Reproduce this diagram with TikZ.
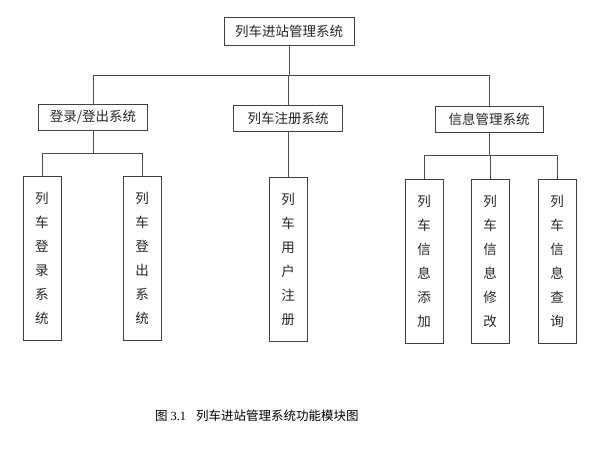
\documentclass[tikz,border=0pt]{standalone}
\usepackage{fontspec}
\newfontfamily\cjk{Noto Sans CJK SC}
\newfontfamily\numfont{Liberation Serif}
\begin{document}
\begin{tikzpicture}[x=1pt,y=-1pt,
  box/.style={draw=black!75,line width=0.9pt,fill=white,inner sep=0pt,
    font={\cjk\fontsize{13.5}{15}\selectfont},text=black!85,minimum height=26pt},
  leaf/.style={draw=black!75,line width=0.9pt,fill=white,inner sep=0pt,
    font={\cjk\fontsize{13.5}{24}\selectfont},text=black!85,
    minimum width=38pt,minimum height=164pt,align=center,text width=38pt},
  conn/.style={draw=black!70,line width=0.9pt}]
\useasboundingbox (0,0) rectangle (592,461);
\node[box,minimum width=130pt,minimum height=28pt] (top) at (289,31) {列车进站管理系统};
\node[box,minimum width=109pt] (login) at (93,117) {登录/登出系统};
\node[box,minimum width=109pt] (reg) at (288,118) {列车注册系统};
\node[box,minimum width=108pt] (info) at (489,119) {信息管理系统};
\node[leaf] (l1) at (42,258) {列\\车\\登\\录\\系\\统};
\node[leaf] (l2) at (142,258) {列\\车\\登\\出\\系\\统};
\node[leaf] (l3) at (288,259) {列\\车\\用\\户\\注\\册};
\node[leaf] (l4) at (424,261) {列\\车\\信\\息\\添\\加};
\node[leaf] (l5) at (490,261) {列\\车\\信\\息\\修\\改};
\node[leaf] (l6) at (557,261) {列\\车\\信\\息\\查\\询};
\foreach \c in {login,reg,info}
  \draw[conn] (top.south) -- ++(0,30) -| (\c.north);
\foreach \c in {l1,l2}
  \draw[conn] (login.south) -- ++(0,23) -| (\c.north);
\draw[conn] (reg.south) -- (l3.north);
\foreach \c in {l4,l5,l6}
  \draw[conn] (info.south) -- ++(0,23) -| (\c.north);
\node[anchor=west,inner sep=0pt,font={\cjk\fontsize{12.5}{14}\selectfont}] (cap) at (155,416)
  {图 {\numfont 3.1}\hspace{0.8em}列车进站管理系统功能模块图};
\end{tikzpicture}
\end{document}
